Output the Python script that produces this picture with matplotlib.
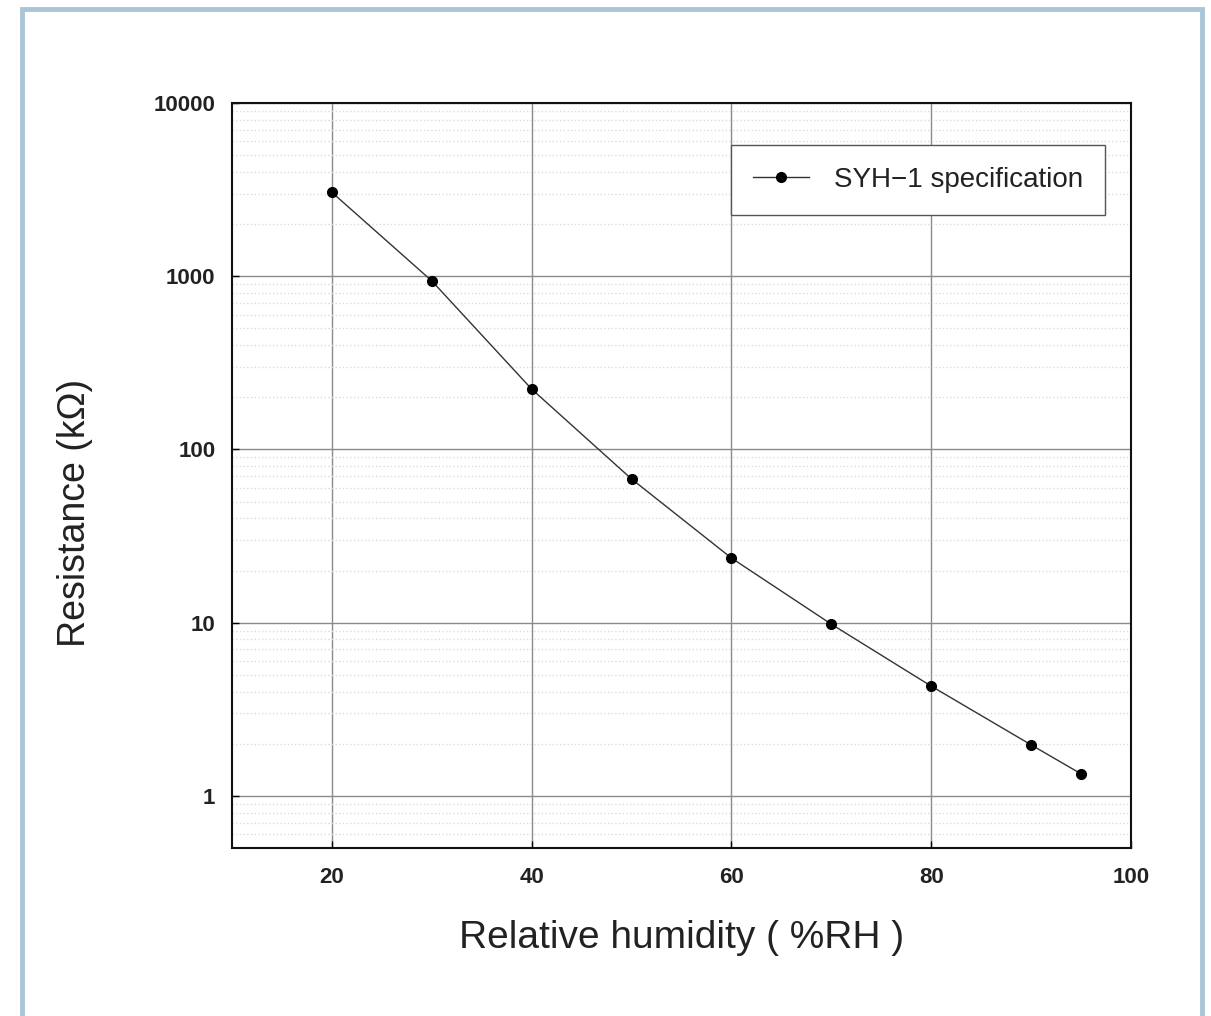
import numpy as np
import matplotlib
matplotlib.use("Agg")
from matplotlib import pyplot as plt
from matplotlib.patches import Rectangle

humidity = [20, 30, 40, 50, 60, 70, 80, 90, 95]
resistance = [3050, 940, 223, 67.5, 23.6, 9.8, 4.3, 1.97, 1.34]
yticks = [1, 10, 100, 1000, 10000]
xticks = [20, 40, 60, 80, 100]

plt.rcParams['font.family'] = ['Liberation Sans', 'DejaVu Sans']

fig = plt.figure(figsize=(12.11, 10.16), dpi=100)

# light blue outer frame
fig.patches.append(Rectangle((22/1211, -0.05), (1202-22)/1211, 1.05 - 9/1016,
                             transform=fig.transFigure, fill=False,
                             edgecolor='#a9c6d6', linewidth=3.5))

ax = fig.add_axes([232/1211, 1-848/1016, (1131-232)/1211, (848-103)/1016])
ax.set_yscale('log')
ax.set_xlim(10, 100)
ax.set_ylim(0.5, 10000)

ax.grid(True, which='major', color='#8a8a8a', linewidth=1.0)
ax.grid(True, which='minor', axis='y', color='#dcdcdc', linestyle=':', linewidth=1.0)
ax.set_axisbelow(True)

ax.plot(humidity, resistance, color='#333333', linewidth=1.0, marker='o',
        markersize=7, markerfacecolor='black', markeredgecolor='black',
        label='SYH\u22121 specification')

ax.set_xticks(xticks)
ax.set_xticklabels([str(v) for v in xticks])
ax.set_yticks(yticks)
ax.set_yticklabels([str(v) for v in yticks])
ax.tick_params(axis='both', which='major', labelsize=16, length=5, width=1,
               direction='in', labelcolor='#222222')
ax.tick_params(axis='x', which='major', pad=14)
ax.tick_params(axis='y', which='major', pad=12)
ax.tick_params(axis='y', which='minor', length=0)
for lab in ax.get_xticklabels() + ax.get_yticklabels():
    lab.set_fontweight('semibold')
for s in ax.spines.values():
    s.set_linewidth(1.5)
    s.set_color('#111111')

ax.set_xlabel('Relative humidity ( %RH )', fontsize=28, color='#222222')
ax.xaxis.set_label_coords(0.5, -0.096, transform=ax.transAxes)
ax.set_ylabel('Resistance (k\u03a9)', fontsize=27, color='#222222')
ax.yaxis.set_label_coords(-0.155, 0.45, transform=ax.transAxes)

leg = ax.legend(loc='upper right', bbox_to_anchor=(0.971, 0.944), borderaxespad=0,
                fontsize=20, fancybox=False, framealpha=1, edgecolor='#555555',
                handlelength=2.0, borderpad=0.8, handletextpad=0.9)
leg.get_frame().set_linewidth(1.0)
for t in leg.get_texts():
    t.set_color('#222222')

fig.savefig('out.png', dpi=100)
